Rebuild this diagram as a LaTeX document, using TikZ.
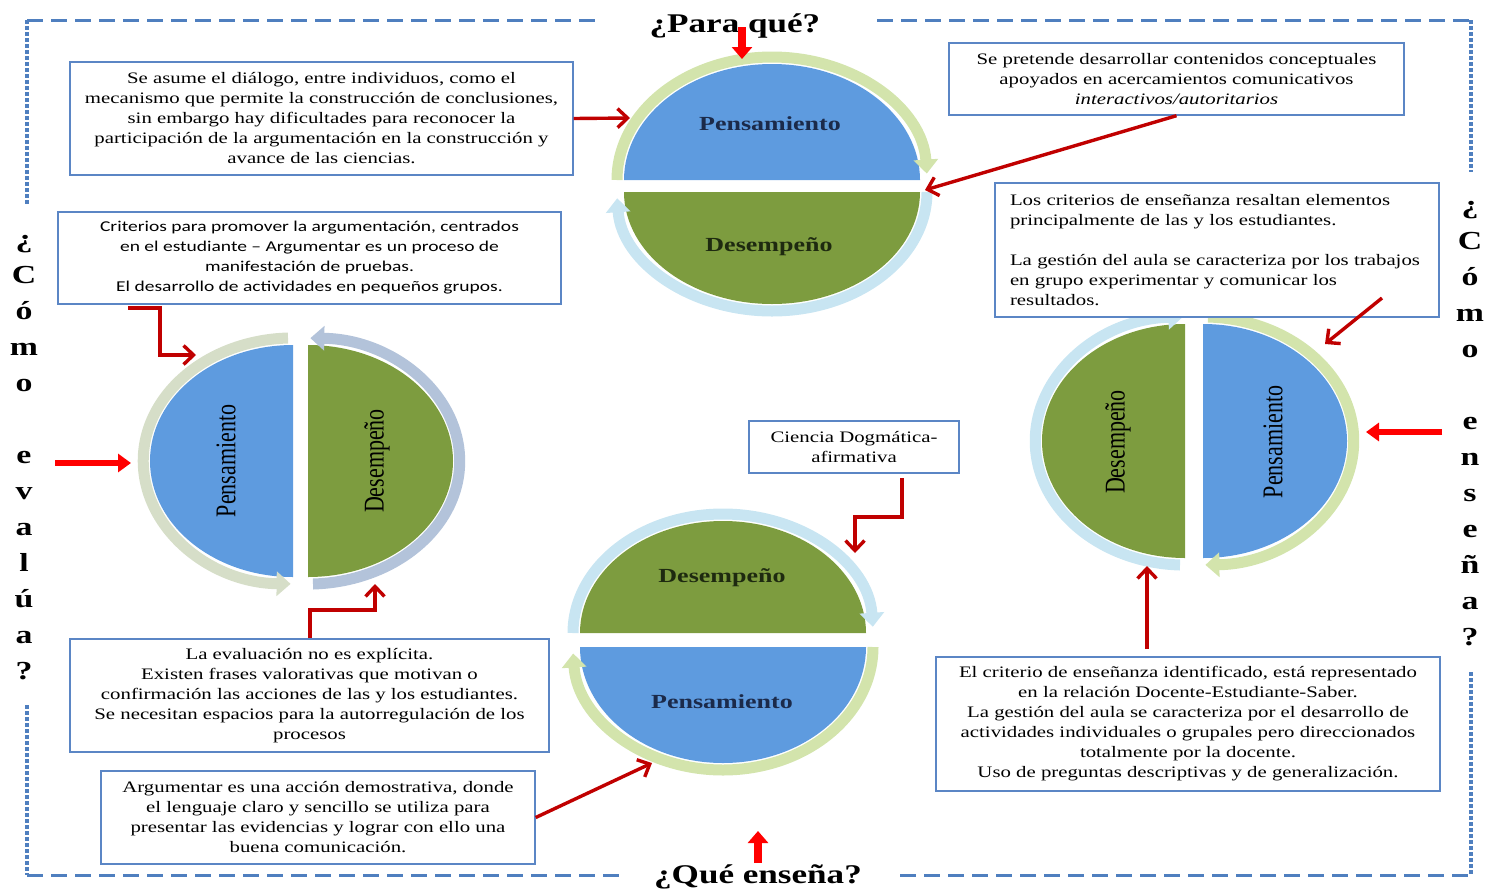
\documentclass[tikz,border=0pt]{standalone}
\usepackage{fontspec}
\usepackage{graphicx}
\usetikzlibrary{arrows.meta}
\setmainfont{Liberation Serif}
\newfontfamily\boxserif{Liberation Serif}[FakeStretch=1.3]
\newfontfamily\boxsans{Carlito}[FakeStretch=1.3]
\definecolor{bordblue}{HTML}{4F7FBF}
\definecolor{boxblue}{HTML}{5B86C5}
\definecolor{fblue}{HTML}{5E9BDF}
\definecolor{fgreen}{HTML}{7D9C3F}
\definecolor{ringgreen}{HTML}{D3E4AC}
\definecolor{ringblue}{HTML}{C8E5F2}
\definecolor{ringgrey}{HTML}{D6DEC8}
\definecolor{ringslate}{HTML}{B3C3DA}
\definecolor{darkred}{HTML}{C00000}
\definecolor{brightred}{HTML}{FF0000}
\definecolor{navytext}{HTML}{1B2A4A}
\definecolor{greentext}{HTML}{1E2A10}
\begin{document}
\begin{tikzpicture}[x=1pt,y=-1pt,
  bordh/.style={draw=bordblue,line width=3pt,dash pattern=on 16pt off 8pt},
  bordv/.style={draw=bordblue,line width=4.5pt,dash pattern=on 4pt off 2pt},
  ring/.style={line width=11pt,-{Triangle[length=14pt,width=24pt]}},
  tbox/.style={draw=boxblue,line width=1.4pt,fill=white,inner sep=0pt,align=center,
    font={\boxserif\fontsize{16}{20}\selectfont}},
  sbox/.style={tbox,font={\boxsans\fontsize{15}{20}\selectfont}},
  conn/.style={draw=darkred,line width=3.4pt,-{Straight Barb[length=10pt,width=19pt]}},
  blockarr/.style={draw=brightred,line width=6pt,-{Triangle[length=13pt,width=18pt]}},
  blockarrv/.style={draw=brightred,line width=8pt,-{Triangle[length=12pt,width=20pt]}},
  htitle/.style={font={\boxserif\bfseries\fontsize{27}{30}\selectfont}},
  vtitle/.style={align=center,font={\boxserif\bfseries\fontsize{26}{36}\selectfont}},
  hlabP/.style={font={\boxserif\bfseries\fontsize{20}{24}\selectfont},text=navytext},
  hlabD/.style={font={\boxserif\bfseries\fontsize{20}{24}\selectfont},text=greentext},
  vlab/.style={rotate=90,font={\fontsize{22}{26}\selectfont}}
]
\useasboundingbox (0,0) rectangle (1492,895);

% border
\draw[bordh] (27,20) -- (597,20);
\draw[bordh] (877,20) -- (1471,20);
\draw[bordh] (27,875) -- (620,875);
\draw[bordh] (900,875) -- (1471,875);
\draw[bordv] (27,20) -- (27,205);
\draw[bordv] (27,705) -- (27,875);
\draw[bordv] (1471,20) -- (1471,172);
\draw[bordv] (1471,672) -- (1471,875);

% top circle
\fill[fblue] (624,180) arc[start angle=180,end angle=360,x radius=148,y radius=116] -- cycle;
\fill[fgreen] (920,192) arc[start angle=0,end angle=180,x radius=148,y radius=112] -- cycle;
\draw[ring,ringgreen] (617,180) arc[start angle=180,end angle=357,x radius=155,y radius=123];
\draw[ring,ringblue] (927,192) arc[start angle=0,end angle=177,x radius=155,y radius=119];

% left circle
\fill[fblue] (293,345) arc[start angle=270,end angle=90,x radius=143,y radius=116] -- cycle;
\fill[fgreen] (308,345) arc[start angle=270,end angle=450,x radius=145,y radius=116] -- cycle;
\draw[ring,ringgrey] (288,338) arc[start angle=268,end angle=91,x radius=150,y radius=123];
\draw[ring,ringslate] (313,584) arc[start angle=88,end angle=-89,x radius=152,y radius=123];

% right circle
\fill[fgreen] (1185,324) arc[start angle=270,end angle=90,x radius=143,y radius=117] -- cycle;
\fill[fblue] (1203,324) arc[start angle=270,end angle=450,x radius=144,y radius=117] -- cycle;
\draw[ring,ringblue] (1180,565) arc[start angle=92,end angle=269,x radius=150,y radius=124];
\draw[ring,ringgreen] (1208,317) arc[start angle=-88,end angle=89,x radius=151,y radius=124];

% bottom circle
\fill[fgreen] (580,633) arc[start angle=180,end angle=360,x radius=143,y radius=112] -- cycle;
\fill[fblue] (866,647) arc[start angle=0,end angle=180,x radius=143,y radius=116] -- cycle;
\draw[ring,ringblue] (573,633) arc[start angle=180,end angle=357,x radius=150,y radius=119];
\draw[ring,ringgreen] (873,647) arc[start angle=0,end angle=177,x radius=150,y radius=123];

% circle labels
\node[hlabP] (tP) at (770,124) {Pensamiento};
\node[hlabD] (tD) at (769,247) {Desempeño};
\node[hlabD] (bD) at (722,578) {Desempeño};
\node[hlabP] (bP) at (722,702) {Pensamiento};
\node[vlab] (lP) at (226,461) {\scalebox{1}[1.3]{Pensamiento}};
\node[vlab] (lD) at (377,461) {\scalebox{1}[1.3]{Desempeño}};
\node[vlab] (rD) at (1118,442) {\scalebox{1}[1.3]{Desempeño}};
\node[vlab] (rP) at (1273,442) {\scalebox{1}[1.3]{Pensamiento}};

% boxes
\node[tbox,minimum width=503pt,minimum height=113pt] (b1) at (321.5,118.5)
  {Se asume el diálogo, entre individuos, como el\\
   mecanismo que permite la construcción de conclusiones,\\
   sin embargo hay dificultades para reconocer la\\
   participación de la argumentación en la construcción y\\
   avance de las ciencias.};
\node[sbox,minimum width=503pt,minimum height=92pt] (b2) at (309.5,258)
  {Criterios para promover la argumentación, centrados\\
   en el estudiante – Argumentar es un proceso de\\
   manifestación de pruebas.\\
   El desarrollo de actividades en pequeños grupos.};
\node[tbox,minimum width=455pt,minimum height=72pt] (b3) at (1176.5,79)
  {Se pretende desarrollar contenidos conceptuales\\
   apoyados en acercamientos comunicativos\\
   \textit{interactivos/autoritarios}};
\node[tbox,align=left,text width=414pt,inner xsep=15pt,minimum height=134pt] (b4) at (1217,250)
  {Los criterios de enseñanza resaltan elementos\\
   principalmente de las y los estudiantes.\\[20pt]
   La gestión del aula se caracteriza por los trabajos\\
   en grupo experimentar y comunicar los\\
   resultados.};
\node[tbox,minimum width=210pt,minimum height=52pt] (b5) at (854,447)
  {Ciencia Dogmática-\\afirmativa};
\node[tbox,minimum width=479pt,minimum height=113pt] (b6) at (309.5,695.5)
  {La evaluación no es explícita.\\
   Existen frases valorativas que motivan o\\
   confirmación las acciones de las y los estudiantes.\\
   Se necesitan espacios para la autorregulación de los\\
   procesos};
\node[tbox,minimum width=434pt,minimum height=93pt] (b7) at (318,817.5)
  {Argumentar es una acción demostrativa, donde\\
   el lenguaje claro y sencillo se utiliza para\\
   presentar las evidencias y lograr con ello una\\
   buena comunicación.};
\node[tbox,minimum width=504pt,minimum height=134pt] (b8) at (1188,724)
  {El criterio de enseñanza identificado, está representado\\
   en la relación Docente-Estudiante-Saber.\\
   La gestión del aula se caracteriza por el desarrollo de\\
   actividades individuales o grupales pero direccionados\\
   totalmente por la docente.\\
   Uso de preguntas descriptivas y de generalización.};

% titles
\node[htitle,anchor=base] (ttop) at (735,32) {¿Para qué?};
\node[htitle,anchor=base] (tbot) at (758,883) {¿Qué enseña?};
\node[vtitle] (tleft) at (24,458) {¿\\C\\ó\\m\\o\\[36pt]e\\v\\a\\l\\ú\\a\\?};
\node[vtitle] (tright) at (1470,424) {¿\\C\\ó\\m\\o\\[36pt]e\\n\\s\\e\\ñ\\a\\?};

% connector coordinates
\coordinate (p1) at (630,118);
\coordinate (p2) at (925,190);
\coordinate (s3) at (128,308);
\coordinate (m3) at (160,308);
\coordinate (p3) at (196,355);
\coordinate (s4) at (55,463);
\coordinate (p4) at (131,463);
\coordinate (s5) at (310,638);
\coordinate (m5) at (310,610);
\coordinate (p5) at (375,584);
\coordinate (s6) at (902,478);
\coordinate (m6) at (902,517);
\coordinate (p6) at (855,553);
\coordinate (p7) at (652,763);
\coordinate (s8) at (1382,298);
\coordinate (p8) at (1325,344);
\coordinate (s9) at (1442,432);
\coordinate (p9) at (1366,432);
\coordinate (s10) at (1147,649);
\coordinate (p10) at (1147,566);
\coordinate (s11) at (742,27);
\coordinate (p11) at (742,59);
\coordinate (s12) at (758,863);
\coordinate (p12) at (758,831);

% connectors
\draw[conn] (b1.east) -- (p1);
\draw[conn] (b3.south) -- (p2);
\draw[conn] (s3) -- (m3) |- (p3);
\draw[conn] (s5) -- (m5) -| (p5);
\draw[conn] (s6) -- (m6) -| (p6);
\draw[conn] (b7.east) -- (p7);
\draw[conn] (s8) -- (p8);
\draw[conn] (s10) -- (p10);
\draw[blockarr] (s4) -- (p4);
\draw[blockarr] (s9) -- (p9);
\draw[blockarrv] (s11) -- (p11);
\draw[blockarrv] (s12) -- (p12);
\end{tikzpicture}
\end{document}
